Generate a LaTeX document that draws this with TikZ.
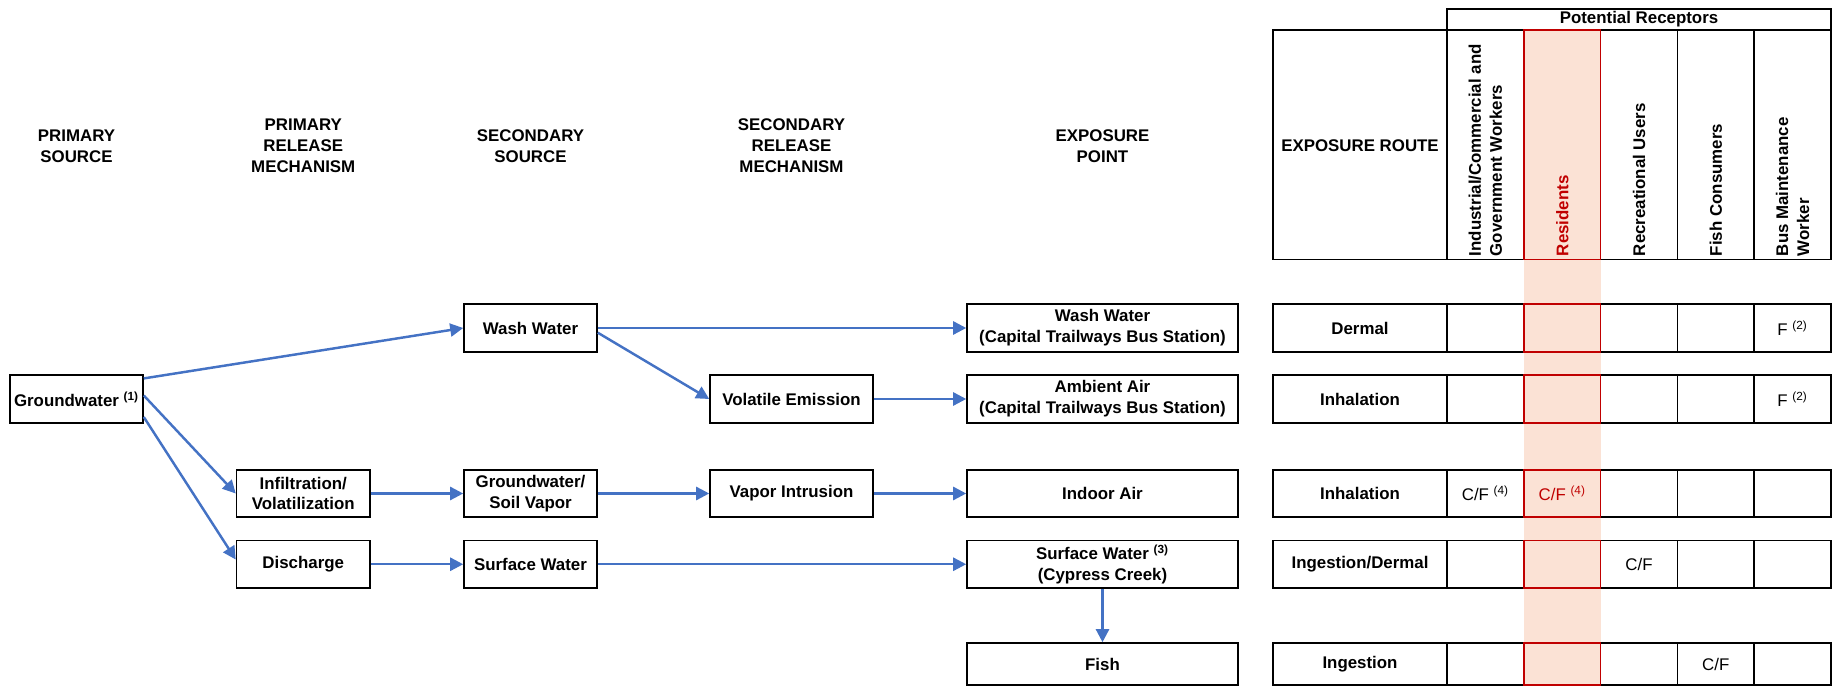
\documentclass[tikz,border=0pt]{standalone}
\usepackage{fontspec}
\setmainfont{Liberation Sans}
\usetikzlibrary{arrows.meta}
\usetikzlibrary{positioning}

\definecolor{flowblue}{HTML}{4472C4}
\definecolor{resred}{HTML}{C00000}
\definecolor{resfill}{HTML}{FBE2D5}
\newcommand{\diagfont}{\fontsize{9.6}{11.9}\selectfont}

\tikzset{
  box/.style={draw=black,line width=0.9pt,minimum height=0.95cm,align=center,inner sep=1pt,font=\diagfont\bfseries},
  flow/.style={draw=flowblue,line width=1.4pt,-{Triangle[length=0.26cm,width=0.26cm]}},
  head/.style={align=center,font=\diagfont\bfseries},
  vlab/.style={rotate=90,anchor=west,align=left,inner sep=0pt,font=\diagfont\bfseries},
  entry/.style={font=\diagfont},
  cell/.style={draw=black,line width=0.9pt},
  redcell/.style={draw=resred,line width=0.9pt},
}

\begin{document}
\begin{tikzpicture}
\useasboundingbox (0,0) rectangle (36.64,13.72);

% column headings
\node[head] (hps) at (1.53,10.8) {PRIMARY\\SOURCE};
\node[head] (hprm) at (6.065,10.8) {PRIMARY\\RELEASE\\MECHANISM};
\node[head] (hss) at (10.61,10.8) {SECONDARY\\SOURCE};
\node[head] (hsrm) at (15.83,10.8) {SECONDARY\\RELEASE\\MECHANISM};
\node[head] (hep) at (22.05,10.8) {EXPOSURE\\POINT};

% flow boxes
\node[box,minimum width=2.66cm] (gw) at (1.53,5.74) {Groundwater \textsuperscript{(1)}};
\node[box,minimum width=2.67cm] (infil) at (6.065,3.85) {Infiltration/\\Volatilization};
\node[box,minimum width=2.67cm] (disch) at (6.065,2.435) {Discharge};
\node[box,minimum width=2.66cm] (wash) at (10.61,7.16) {Wash Water};
\node[box,minimum width=2.66cm] (gwsv) at (10.61,3.85) {Groundwater/\\Soil Vapor};
\node[box,minimum width=2.66cm] (sw) at (10.61,2.435) {Surface Water};
\node[box,minimum width=3.26cm] (volem) at (15.83,5.74) {Volatile Emission};
\node[box,minimum width=3.26cm] (vapint) at (15.83,3.85) {Vapor Intrusion};
\node[box,minimum width=5.42cm] (epwash) at (22.05,7.16) {Wash Water\\(Capital Trailways Bus Station)};
\node[box,minimum width=5.42cm] (epair) at (22.05,5.74) {Ambient Air\\(Capital Trailways Bus Station)};
\node[box,minimum width=5.42cm] (epindoor) at (22.05,3.85) {Indoor Air};
\node[box,minimum width=5.42cm] (epsw) at (22.05,2.435) {Surface Water \textsuperscript{(3)}\\(Cypress Creek)};
\node[box,minimum width=5.42cm,minimum height=0.84cm] (epfish) at (22.05,0.44) {Fish};

% pathways
\draw[flow] (gw.17) -- (wash.west);
\draw[flow] (gw.3) -- (infil.west);
\draw[flow] (gw.-15) -- (disch.176);
\draw[flow] (wash.east) -- (epwash.west);
\draw[flow] (wash.-4) -- (volem.west);
\draw[flow] (volem.east) -- (epair.west);
\draw[flow] (infil.east) -- (gwsv.west);
\draw[flow] (gwsv.east) -- (vapint.west);
\draw[flow] (vapint.east) -- (epindoor.west);
\draw[flow] (disch.east) -- (sw.west);
\draw[flow] (sw.east) -- (epsw.west);
\draw[flow] (epsw.south) -- (epfish.north);

% receptor table
\fill[resfill] (30.476,0) rectangle (32.012,13.12);
\draw[cell] (28.94,13.12) rectangle (36.62,13.54);
\node[head] (prec) at (32.78,13.33) {Potential Receptors};
\draw[cell] (25.46,8.53) rectangle (28.94,13.12);
\node[head] (hroute) at (27.2,10.8) {EXPOSURE ROUTE};
\draw[cell] (28.94,8.53) rectangle (30.476,13.12);
\draw[cell] (32.012,8.53) rectangle (33.548,13.12);
\draw[cell] (33.548,8.53) rectangle (35.084,13.12);
\draw[cell] (35.084,8.53) rectangle (36.62,13.12);
\draw[redcell] (30.476,8.53) rectangle (32.012,13.12);
\node[vlab] (lind) at (29.708,8.59) {Industrial/Commercial and\\Government Workers};
\node[vlab,text=resred] (lres) at (31.244,8.59) {Residents};
\node[vlab] (lrec) at (32.78,8.59) {Recreational Users};
\node[vlab] (lfish) at (34.316,8.59) {Fish Consumers};
\node[vlab] (lbus) at (35.852,8.59) {Bus Maintenance\\Worker};

% row: wash water
\draw[cell] (25.46,6.685) rectangle (28.94,7.635);
\draw[cell] (28.94,6.685) rectangle (30.476,7.635);
\draw[cell] (32.012,6.685) rectangle (33.548,7.635);
\draw[cell] (33.548,6.685) rectangle (35.084,7.635);
\draw[cell] (35.084,6.685) rectangle (36.62,7.635);
\draw[redcell] (30.476,6.685) rectangle (32.012,7.635);
\node[head] (r1) at (27.2,7.16) {Dermal};
\node[entry] (r1bus) at (35.852,7.16) {F \textsuperscript{(2)}};

% row: ambient air
\draw[cell] (25.46,5.265) rectangle (28.94,6.215);
\draw[cell] (28.94,5.265) rectangle (30.476,6.215);
\draw[cell] (32.012,5.265) rectangle (33.548,6.215);
\draw[cell] (33.548,5.265) rectangle (35.084,6.215);
\draw[cell] (35.084,5.265) rectangle (36.62,6.215);
\draw[redcell] (30.476,5.265) rectangle (32.012,6.215);
\node[head] (r2) at (27.2,5.74) {Inhalation};
\node[entry] (r2bus) at (35.852,5.74) {F \textsuperscript{(2)}};

% row: indoor air
\draw[cell] (25.46,3.375) rectangle (28.94,4.325);
\draw[cell] (28.94,3.375) rectangle (30.476,4.325);
\draw[cell] (32.012,3.375) rectangle (33.548,4.325);
\draw[cell] (33.548,3.375) rectangle (35.084,4.325);
\draw[cell] (35.084,3.375) rectangle (36.62,4.325);
\draw[redcell] (30.476,3.375) rectangle (32.012,4.325);
\node[head] (r3) at (27.2,3.85) {Inhalation};
\node[entry] (r3ind) at (29.708,3.85) {C/F \textsuperscript{(4)}};
\node[entry,text=resred] (r3res) at (31.244,3.85) {C/F \textsuperscript{(4)}};

% row: surface water
\draw[cell] (25.46,1.96) rectangle (28.94,2.91);
\draw[cell] (28.94,1.96) rectangle (30.476,2.91);
\draw[cell] (32.012,1.96) rectangle (33.548,2.91);
\draw[cell] (33.548,1.96) rectangle (35.084,2.91);
\draw[cell] (35.084,1.96) rectangle (36.62,2.91);
\draw[redcell] (30.476,1.96) rectangle (32.012,2.91);
\node[head] (r4) at (27.2,2.435) {Ingestion/Dermal};
\node[entry] (r4rec) at (32.78,2.435) {C/F};

% row: fish
\draw[cell] (25.46,0.02) rectangle (28.94,0.86);
\draw[cell] (28.94,0.02) rectangle (30.476,0.86);
\draw[cell] (32.012,0.02) rectangle (33.548,0.86);
\draw[cell] (33.548,0.02) rectangle (35.084,0.86);
\draw[cell] (35.084,0.02) rectangle (36.62,0.86);
\draw[redcell] (30.476,0.02) rectangle (32.012,0.86);
\node[head] (r5) at (27.2,0.44) {Ingestion};
\node[entry] (r5fish) at (34.316,0.44) {C/F};

\end{tikzpicture}
\end{document}
